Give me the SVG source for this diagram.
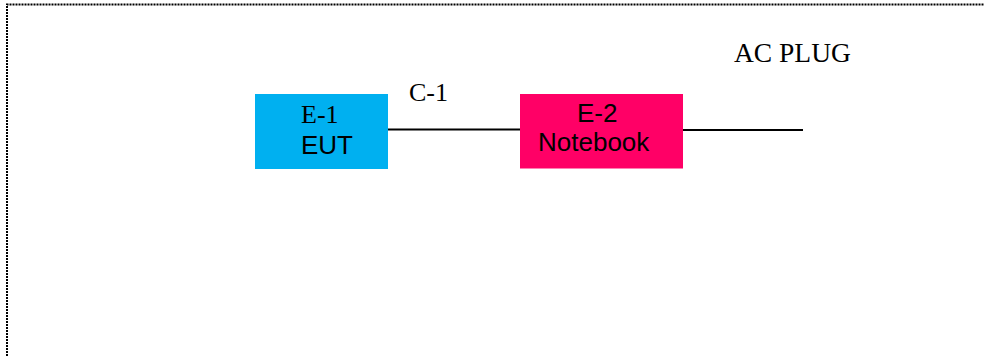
<svg xmlns="http://www.w3.org/2000/svg" width="984" height="356" viewBox="0 0 984 356">
<style>
.serif{font-family:"Liberation Serif","Times New Roman",serif;font-size:26px;fill:#000}
.sans{font-family:"Liberation Sans",Arial,sans-serif;font-size:26px;fill:#000}
.wire{stroke:#000;stroke-width:2;fill:none}
.frame{stroke:#000;stroke-width:2;stroke-dasharray:2 1;fill:none}
</style>
<path class="frame" d="M7,356 V4.5 H984"/>
<g id="connectors">
<line class="wire" x1="388" y1="129.5" x2="520" y2="129.5"/>
<line class="wire" x1="683" y1="130" x2="803" y2="130"/>
<text class="serif" x="409" y="101">C-1</text>
</g>
<g id="E-1">
<rect x="255" y="94" width="133" height="75" fill="#00B0F0"/>
<text class="serif" x="301" y="123">E-1</text>
<text class="sans" x="301" y="154">EUT</text>
</g>
<g id="E-2">
<rect x="520" y="94" width="163" height="74.5" fill="#FF0066"/>
<text class="sans" x="577" y="122">E-2</text>
<text class="sans" x="538" y="151">Notebook</text>
</g>
<g id="ac-plug">
<text class="serif" x="734" y="62" style="font-size:27.5px">AC PLUG</text>
</g>
</svg>
